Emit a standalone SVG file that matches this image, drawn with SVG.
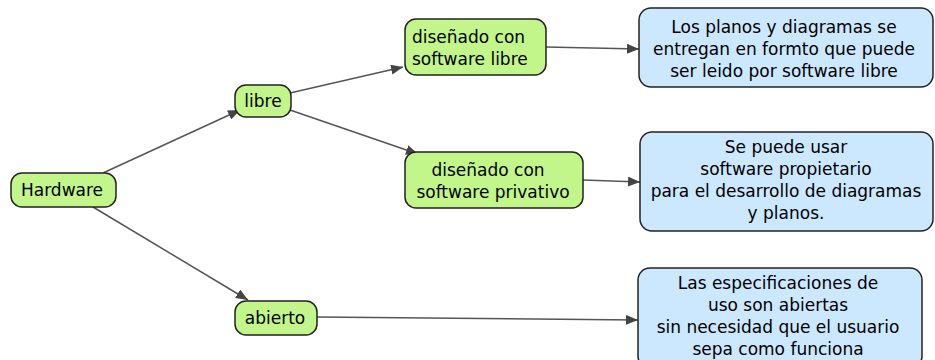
<svg xmlns="http://www.w3.org/2000/svg" width="935" height="360" viewBox="0 0 935 360">
<defs>
<style>
.g{fill:#c2f68a;stroke:#222;stroke-width:1.5}
.b{fill:#cce8fe;stroke:#222;stroke-width:1.5}
text{font-family:"DejaVu Sans",sans-serif;font-size:17px;fill:#000}
.c{text-anchor:middle}
.e{stroke:#555;stroke-width:1.5;fill:none;marker-end:url(#ah)}
</style>
<marker id="ah" viewBox="0 0 12 10" refX="12" refY="5" markerWidth="12" markerHeight="10" markerUnits="userSpaceOnUse" orient="auto">
<path d="M0,0 L12,5 L0,10 z" fill="#444"/>
</marker>
</defs>
<g id="connectors">
<line class="e" x1="103" y1="173" x2="240" y2="110"/>
<line class="e" x1="93" y1="207" x2="248" y2="300"/>
<line class="e" x1="290" y1="93" x2="403" y2="67"/>
<line class="e" x1="290" y1="110" x2="418" y2="154"/>
<line class="e" x1="546" y1="47" x2="639" y2="49"/>
<line class="e" x1="583" y1="180" x2="640" y2="182"/>
<line class="e" x1="317" y1="317" x2="638" y2="320"/>
</g>
<g id="hardware">
<rect class="g" x="11" y="173" width="105" height="34" rx="11"/>
<text class="c" x="62" y="196">Hardware</text>
</g>
<g id="libre">
<rect class="g" x="235" y="85" width="56" height="32" rx="11"/>
<text class="c" x="263" y="107">libre</text>
</g>
<g id="abierto">
<rect class="g" x="235" y="301" width="82" height="34" rx="11"/>
<text class="c" x="275" y="324">abierto</text>
</g>
<g id="disenado-libre">
<rect class="g" x="405" y="19" width="141" height="56" rx="11"/>
<text x="412" y="43">diseñado con</text>
<text x="412" y="65">software libre</text>
</g>
<g id="disenado-privativo">
<rect class="g" x="405" y="152" width="178" height="56" rx="11"/>
<text class="c" x="488" y="176">diseñado con</text>
<text class="c" x="493" y="198">software privativo</text>
</g>
<g id="nota-libre">
<rect class="b" x="639" y="8" width="294" height="79" rx="12"/>
<text class="c" x="784" y="33">Los planos y diagramas se</text>
<text class="c" x="784" y="55">entregan en formto que puede</text>
<text class="c" x="784" y="77">ser leido por software libre</text>
</g>
<g id="nota-privativo">
<rect class="b" x="640" y="132" width="293" height="99" rx="12"/>
<text class="c" x="786" y="153">Se puede usar</text>
<text class="c" x="786" y="175">software propietario</text>
<text class="c" x="786" y="197">para el desarrollo de diagramas</text>
<text class="c" x="786" y="219">y planos.</text>
</g>
<g id="nota-abierto">
<rect class="b" x="638" y="268" width="284" height="100" rx="12"/>
<text class="c" x="778" y="289">Las especificaciones de</text>
<text class="c" x="778" y="311">uso son abiertas</text>
<text class="c" x="778" y="333">sin necesidad que el usuario</text>
<text class="c" x="778" y="355">sepa como funciona</text>
</g>
</svg>
